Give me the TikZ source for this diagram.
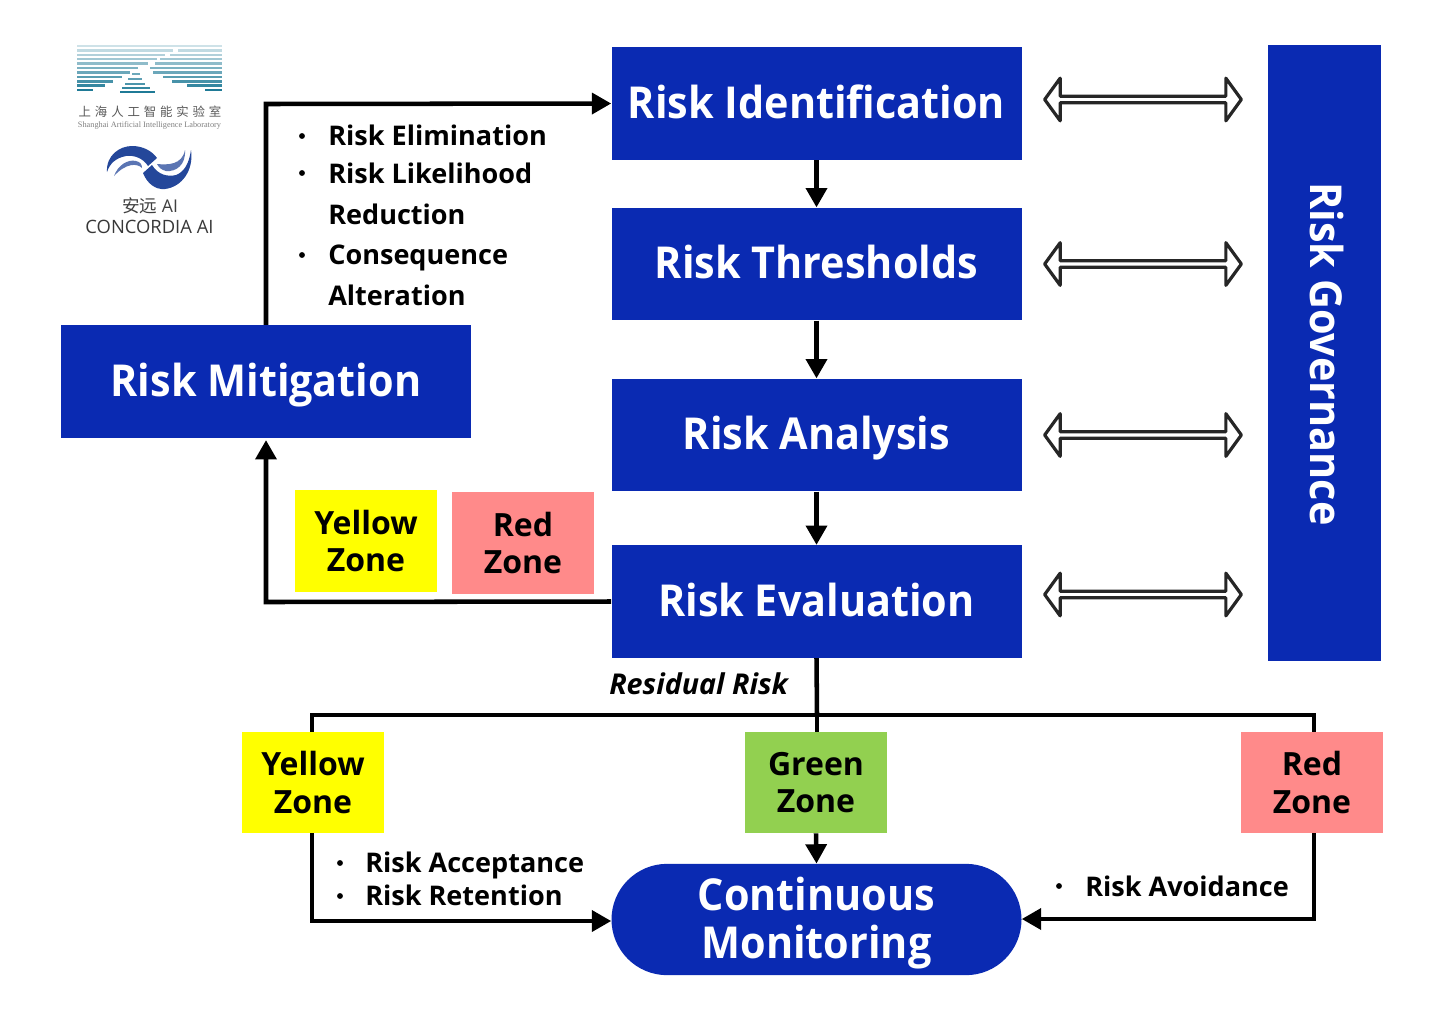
\documentclass[tikz,border=0pt]{standalone}
\usepackage{fontspec}
\setmainfont{Open Sans}
\newfontfamily\cjk{Noto Sans CJK SC}
\newfontfamily\narrow[FakeStretch=0.94]{Open Sans}
\newfontfamily\logoserif{Liberation Serif}
\usetikzlibrary{shapes.arrows,shapes.misc,arrows.meta}
\definecolor{boxblue}{HTML}{0A2AB2}
\definecolor{zoneyellow}{HTML}{FFFF00}
\definecolor{zonered}{HTML}{FF8A8A}
\definecolor{zonegreen}{HTML}{92D050}
\definecolor{logoblue}{HTML}{24479A}
\definecolor{logoteal}{HTML}{1F7A96}
\newcommand{\fsz}[1]{\fontsize{#1}{#1}\selectfont}
\newcommand{\fszb}[2]{\fontsize{#1}{#2}\selectfont}
\tikzset{
  px/.style={x=0.75pt,y=-0.75pt},
  bluebox/.style={fill=boxblue,text=white,font=\narrow\fsz{33}\bfseries,minimum width=307.5pt,minimum height=84.5pt,inner sep=0pt,align=center,text height=22pt,text depth=0pt},
  zone/.style={text=black,font=\fszb{24}{28}\bfseries,minimum width=106.5pt,minimum height=76pt,inner sep=0pt,align=center},
  flow/.style={draw=black,line width=3.4pt,-{Triangle[length=14.5pt,width=15.5pt]}},
  plain/.style={draw=black,line width=3.4pt},
  dbl/.style={shape=double arrow,draw=black!85,fill=white,line width=2.4pt,line join=round,minimum height=147.5pt,minimum width=32pt,double arrow head extend=6.5pt,double arrow tip angle=108,inner sep=0pt},
  note/.style={text=black,font=\fsz{20.3}\bfseries,anchor=west,inner sep=0pt,text height=14.6pt,text depth=0pt},
  dotmark/.style={fill=black,circle,inner sep=0pt,minimum size=4.4pt},
}
\begin{document}
\begin{tikzpicture}[px]
\useasboundingbox (0,0) rectangle (1456,1025);
\fill[white] (0,0) rectangle (1456,1025);

% --- logo 1: stripes
\foreach \yy/\le/\rs/\cc in {46/205/183/22,50.5/173/178/28,55/165/170/35,59/157/160/42,63.5/148/155/50,68/138/150/58,72.5/130/153/66,77/122/163/74,81.5/113/172/82,85.5/105/187/90,90/93/205/100}{
  \fill[logoteal!\cc!white] (77,\yy-1.3) rectangle (\le,\yy+1.3);
  \fill[logoteal!\cc!white] (\rs,\yy-1.3) rectangle (222,\yy+1.3);
}
\fill[logoteal!65!white] (132,73) rectangle (140,75);
\fill[logoteal!72!white] (128,78) rectangle (142,80);
\fill[logoteal!80!white] (125,83) rectangle (145,85);
\fill[logoteal!90!white] (122,87) rectangle (150,89);
\fill[logoteal] (120,91) rectangle (155,93);
\node (lab) at (150,111.5) {\cjk\fsz{9.3}\color{black!65}上\hspace{2.9pt}海\hspace{2.9pt}人\hspace{2.9pt}工\hspace{2.9pt}智\hspace{2.9pt}能\hspace{2.9pt}实\hspace{2.9pt}验\hspace{2.9pt}室};
\node (laben) at (149.5,125.5) {\logoserif\fontsize{6.2}{6.2}\selectfont\color{black!50}Shanghai Artificial Intelligence Laboratory};

% --- logo 2: swooshes
\fill[logoblue] (107,172) .. controls (106,155) and (120,146) .. (132,146) .. controls (143,146) and (152,151) .. (157,158) -- (148,166) .. controls (143,158) and (134,155) .. (126,156) .. controls (116,158) and (110,163) .. (107,172) -- cycle;
\fill[logoblue!75!white] (114,176) .. controls (118,165) and (128,159) .. (136,161) .. controls (140,162) and (142,164) .. (142,168) .. controls (137,163) and (126,163) .. (114,176) -- cycle;
\fill[logoblue] (143,173) -- (152,165) .. controls (158,175) and (168,177) .. (176,175) .. controls (184,172) and (189,164) .. (191,150) .. controls (194,170) and (182,187) .. (165,189) .. controls (155,190) and (147,183) .. (143,173) -- cycle;
\fill[logoblue!75!white] (157,164) .. controls (168,165) and (182,165) .. (185,150) .. controls (186,165) and (176,172) .. (166,171) .. controls (162,170) and (159,168) .. (157,164) -- cycle;
\node (cn) at (150,205.5) {\fsz{13.2}\color{black!75}{\cjk 安远} AI};
\node (cen) at (149.5,227) {\fsz{13.8}\color{black!78}CONCORDIA AI};

% --- main boxes
\node[bluebox] (ident) at (816.5,103.5) {Risk Identification};
\node[bluebox] (thresh) at (816.5,264) {Risk Thresholds};
\node[bluebox] (analysis) at (816.5,435) {Risk Analysis};
\node[bluebox] (eval) at (816.5,601.5) {Risk Evaluation};
\node[bluebox] (mitig) at (266,381.5) {Risk Mitigation};
\node[fill=boxblue,minimum width=85pt,minimum height=462pt,inner sep=0pt] (gov) at (1324.5,353) {};
\node[text=white,font=\narrow\fsz{33}\bfseries,rotate=-90,inner sep=0pt,text height=23.5pt,text depth=0pt] (govtext) at (1326,354) {Risk Governance};
\node[fill=boxblue,text=white,inner sep=0pt,align=center,minimum width=307.5pt,shape=rounded rectangle,rounded rectangle arc length=180,font=\narrow\fszb{33}{36}\bfseries,minimum height=83.5pt] (monit) at (816.5,919.5) {\rule{0pt}{31pt}Continuous\\Monitoring};

% --- zones
\node[zone,fill=zoneyellow] (yz1) at (366,541) {Yellow\\Zone};
\node[zone,fill=zonered] (rz1) at (523,543) {Red\\Zone};
\node[zone,fill=zoneyellow] (yz2) at (313,782.5) {Yellow\\Zone};
\node[zone,fill=zonegreen] (gz) at (816,782.5) {Green\\Zone};
\node[zone,fill=zonered] (rz2) at (1312,782.5) {Red\\Zone};

% --- double arrows
\node[dbl] (da1) at (1143,99.5) {};
\node[dbl] (da2) at (1143,264) {};
\node[dbl] (da3) at (1143,435) {};
\node[dbl] (da4) at (1143,594.5) {};

% --- connectors
\coordinate (c1) at (266,104);
\draw[flow] (mitig.north) -- (c1) -- (ident.west);
\draw[flow] (ident) -- (thresh);
\draw[flow] (thresh) -- (analysis);
\draw[flow] (analysis) -- (eval);
\coordinate (c2) at (266,602);
\draw[flow,shorten >=1.5pt] (eval.west) -- (c2) -- (mitig.south);
\coordinate (c3) at (817,715);
\coordinate (c4) at (312,715);
\coordinate (c5) at (1314,715);
\draw[plain] (eval.south) -- (c3);
\draw[plain] (c3) -- (gz.north -| c3);
\draw[plain] (yz2.north -| c4) -- (c4) -- (c5) -- (rz2.north -| c5);
\draw[flow] (gz.south) -- (monit.north);
\coordinate (c6) at (312,921);
\coordinate (c7) at (1314,919);
\draw[flow] (yz2.south -| c6) -- (c6) -- (monit.west |- c6);
\draw[flow] (rz2.south -| c7) -- (c7) -- (monit.east |- c7);

% --- notes
\node[dotmark] (b1) at (302,136) {};
\node[note] (n1) at (328,135.5) {Risk Elimination};
\node[dotmark] (b2) at (302,173) {};
\node[note] (n2) at (328,173.5) {Risk Likelihood};
\node[note] (n3) at (328,214.5) {Reduction};
\node[dotmark] (b3) at (302,255) {};
\node[note] (n4) at (328,255) {Consequence};
\node[note] (n5) at (328,296) {Alteration};
\node[dotmark] (b4) at (340,863) {};
\node[note] (n6) at (365,863) {Risk Acceptance};
\node[dotmark] (b5) at (340,896) {};
\node[note] (n7) at (365,896) {Risk Retention};
\node[dotmark] (b6) at (1059,886) {};
\node[note] (n8) at (1085,886.5) {Risk Avoidance};
\node[note,font=\fsz{21.5}\bfseries\itshape] (resid) at (609,684.5) {Residual Risk};
\end{tikzpicture}
\end{document}
